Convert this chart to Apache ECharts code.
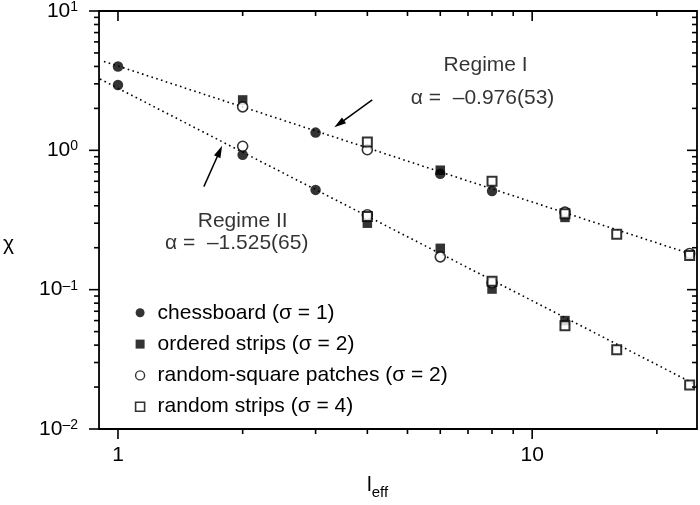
<!DOCTYPE html>
<html>
<head>
<meta charset="utf-8">
<script src="https://cdn.jsdelivr.net/npm/echarts@6/dist/echarts.min.js"></script>
<style>
  html, body { margin: 0; padding: 0; background: #fff; }
  #chart { width: 700px; height: 505px; }
</style>
</head>
<body>
<div id="chart"></div>
<script>
// Axis ranges (log-log)
const X_MIN = 0.9, X_MAX = 25;
const Y_MIN = 0.01, Y_MAX = 10;

// Susceptibility chi versus effective length, per lattice arrangement
const chessboardX = [1, 1, 2, 3, 3, 6, 8];
const chessboardY = [4.0, 2.94, 0.93, 1.34, 0.52, 0.68, 0.51];
const orderedX = [2, 4, 6, 6, 8, 12, 12];
const orderedY = [2.3, 0.30, 0.72, 0.198, 0.101, 0.33, 0.06];
const patchesX = [2, 2, 4, 4, 6, 8, 12, 24];
const patchesY = [2.05, 1.07, 1.01, 0.345, 0.172, 0.112, 0.36, 0.182];
const stripsX = [4, 8, 12, 16, 24, 4, 8, 12, 16, 24];
const stripsY = [1.15, 0.60, 0.35, 0.25, 0.176, 0.335, 0.115, 0.055, 0.0371, 0.0207];

// Power-law fits chi = prefactor * l^alpha
const alphaI = -0.976, alphaII = -1.525;
const prefactorI = 4.03, prefactorII = 2.79;
const fitRangeI = [0.925, 25], fitRangeII = [0.905, 25];

// Annotations
const noteTexts = ['Regime I', 'α =  –0.976(53)', 'Regime II', 'α =  –1.525(65)'];
const noteX = [7.72, 7.59, 2.0, 1.935];
const noteY = [4.07, 2.37, 0.311, 0.217];
const arrowI = [[4.11, 2.30], [3.42, 1.55]];
const arrowII = [[1.612, 0.549], [1.76, 0.984]];

// Tick positions
const xMajorTicks = [1, 10];
const xMinorTicks = [2, 3, 4, 5, 6, 7, 8, 9, 20];
const yMajorTicks = [0.01, 0.1, 1, 10];
const yMinorTicks = [0.02, 0.03, 0.04, 0.05, 0.06, 0.07, 0.08, 0.09,
                     0.2, 0.3, 0.4, 0.5, 0.6, 0.7, 0.8, 0.9,
                     2, 3, 4, 5, 6, 7, 8, 9];

const legendNames = ['chessboard (σ = 1)', 'ordered strips (σ = 2)',
                     'random-square patches (σ = 2)', 'random strips (σ = 4)'];

const FONT = '"Liberation Sans", Arial, Helvetica, sans-serif';
const zip = (xs, ys) => xs.map((x, i) => [x, ys[i]]);
const fitLine = (pref, alpha, range) => range.map(x => [x, pref * Math.pow(x, alpha)]);

const openStyle = { color: '#fff', borderColor: '#000', borderWidth: 1.6 };
const filledStyle = { color: '#000', borderWidth: 0 };

// tick items: [x, y, kind (0 = x axis, 1 = y axis), major flag]
const tickData = []
  .concat(xMajorTicks.map(v => [v, 1, 0, 1]))
  .concat(xMinorTicks.map(v => [v, 1, 0, 0]))
  .concat(yMajorTicks.map(v => [1, v, 1, 1]))
  .concat(yMinorTicks.map(v => [1, v, 1, 0]));

function tickLine(x1, y1, x2, y2) {
  return { type: 'line', shape: { x1, y1, x2, y2 }, style: { stroke: '#000', lineWidth: 1.6 } };
}

function isDecade(v) {
  const l = Math.log10(v);
  return Math.abs(l - Math.round(l)) < 1e-6;
}

const chart = echarts.init(document.getElementById('chart'), null, { renderer: 'canvas' });

chart.setOption({
  animation: false,
  backgroundColor: '#fff',
  textStyle: { fontFamily: FONT, color: '#000' },
  grid: {
    left: 95.7, top: 10, width: 607.8, height: 421.7,
    show: true, borderColor: '#000', borderWidth: 1.8, backgroundColor: 'transparent'
  },
  legend: {
    orient: 'vertical', left: 129.8, top: 297.3,
    itemWidth: 9, itemHeight: 9, itemGap: 10.3,
    selectedMode: false,
    formatter: '{t|{name}}',
    textStyle: {
      fontFamily: FONT, fontSize: 21, color: '#000', lineHeight: 21,
      rich: { t: { fontFamily: FONT, fontSize: 21, color: '#000', lineHeight: 21, padding: [0, 0, 0, 8] } }
    },
    data: [
      { name: legendNames[0], icon: 'circle', itemStyle: filledStyle },
      { name: legendNames[1], icon: 'rect', itemStyle: filledStyle },
      { name: legendNames[2], icon: 'circle', itemStyle: { color: '#fff', borderColor: '#000', borderWidth: 1.4 } },
      { name: legendNames[3], icon: 'rect', itemStyle: { color: '#fff', borderColor: '#000', borderWidth: 1.6 } }
    ]
  },
  xAxis: {
    type: 'log', logBase: 10, min: X_MIN, max: X_MAX,
    axisLine: { show: false }, axisTick: { show: false }, splitLine: { show: false },
    axisLabel: {
      margin: 16, fontSize: 21, color: '#000', fontFamily: FONT,
      showMinLabel: true, showMaxLabel: true,
      formatter: v => (isDecade(v) ? String(Math.round(v)) : '')
    },
    name: '{l|l}{s|eff}', nameLocation: 'middle', nameGap: 42,
    nameTextStyle: {
      padding: [0, 41, 0, 0],
      rich: {
        l: { fontSize: 21, fontFamily: FONT, color: '#000' },
        s: { fontSize: 15, fontFamily: FONT, color: '#000', padding: [14, 0, 0, 0] }
      }
    }
  },
  yAxis: {
    type: 'log', logBase: 10, min: Y_MIN, max: Y_MAX,
    axisLine: { show: false }, axisTick: { show: false }, splitLine: { show: false },
    axisLabel: {
      margin: 21, fontSize: 21, color: '#000', fontFamily: FONT,
      formatter: v => {
        const n = Math.round(Math.log10(v));
        return '10{sup|' + (n < 0 ? '–' + (-n) : String(n)) + '}';
      },
      rich: {
        sup: { fontSize: 14, fontFamily: FONT, color: '#000', padding: [0, 0, 8, 0] }
      }
    },
    name: '{c|χ}', nameLocation: 'middle', nameRotate: 0, nameGap: 85,
    nameTextStyle: {
      rich: { c: { fontSize: 21, fontFamily: FONT, color: '#000', padding: [48, 0, 0, 0] } }
    }
  },
  series: [
    {
      name: 'fit I', type: 'line', data: fitLine(prefactorI, alphaI, fitRangeI),
      showSymbol: false, symbol: 'none', silent: true, z: 1,
      lineStyle: { color: '#000', width: 1.6, type: [1.6, 3.4] },
      markLine: {
        silent: true, symbol: ['none', 'triangle'], symbolSize: [7, 12],
        lineStyle: { color: '#000', width: 1.5, type: 'solid' },
        label: { show: false },
        data: [
          [{ coord: arrowI[0] }, { coord: arrowI[1] }],
          [{ coord: arrowII[0] }, { coord: arrowII[1] }]
        ]
      }
    },
    {
      name: 'fit II', type: 'line', data: fitLine(prefactorII, alphaII, fitRangeII),
      showSymbol: false, symbol: 'none', silent: true, z: 1,
      lineStyle: { color: '#000', width: 1.6, type: [1.6, 3.4] }
    },
    {
      name: legendNames[0], type: 'scatter', data: zip(chessboardX, chessboardY),
      symbol: 'circle', symbolSize: 10.5, itemStyle: filledStyle, z: 2
    },
    {
      name: legendNames[1], type: 'scatter', data: zip(orderedX, orderedY),
      symbol: 'rect', symbolSize: 9.5, itemStyle: filledStyle, z: 2
    },
    {
      name: legendNames[2], type: 'scatter', data: zip(patchesX, patchesY),
      symbol: 'circle', symbolSize: 10, itemStyle: openStyle, z: 3
    },
    {
      name: legendNames[3], type: 'scatter', data: zip(stripsX, stripsY),
      symbol: 'rect', symbolSize: 9, itemStyle: { color: '#fff', borderColor: '#000', borderWidth: 2 }, z: 4
    },
    {
      name: 'notes', type: 'scatter', silent: true, symbolSize: 0, z: 6,
      itemStyle: { color: '#000' },
      data: noteTexts.map((t, i) => ({ name: t, value: [noteX[i], noteY[i]] })),
      label: {
        show: true, position: 'inside', formatter: '{b}',
        fontSize: 21, fontFamily: FONT, color: '#000',
        textBorderWidth: 0, textBorderColor: 'transparent'
      }
    },
    {
      name: 'ticks', type: 'custom', silent: true, clip: false, z: 5,
      data: tickData,
      renderItem(params, api) {
        const kind = api.value(2);
        const len = api.value(3) ? 10 : 5;
        if (kind === 0) {
          const v = api.value(0);
          const b = api.coord([v, Y_MIN]);
          const t = api.coord([v, Y_MAX]);
          return { type: 'group', children: [
            tickLine(b[0], b[1], b[0], b[1] + len),
            tickLine(t[0], t[1], t[0], t[1] + len)
          ] };
        }
        const v = api.value(1);
        const l = api.coord([X_MIN, v]);
        const r = api.coord([X_MAX, v]);
        return { type: 'group', children: [
          tickLine(l[0], l[1], l[0] - len, l[1]),
          tickLine(r[0], r[1], r[0] - len, r[1])
        ] };
      }
    }
  ]
});
</script>
</body>
</html>
